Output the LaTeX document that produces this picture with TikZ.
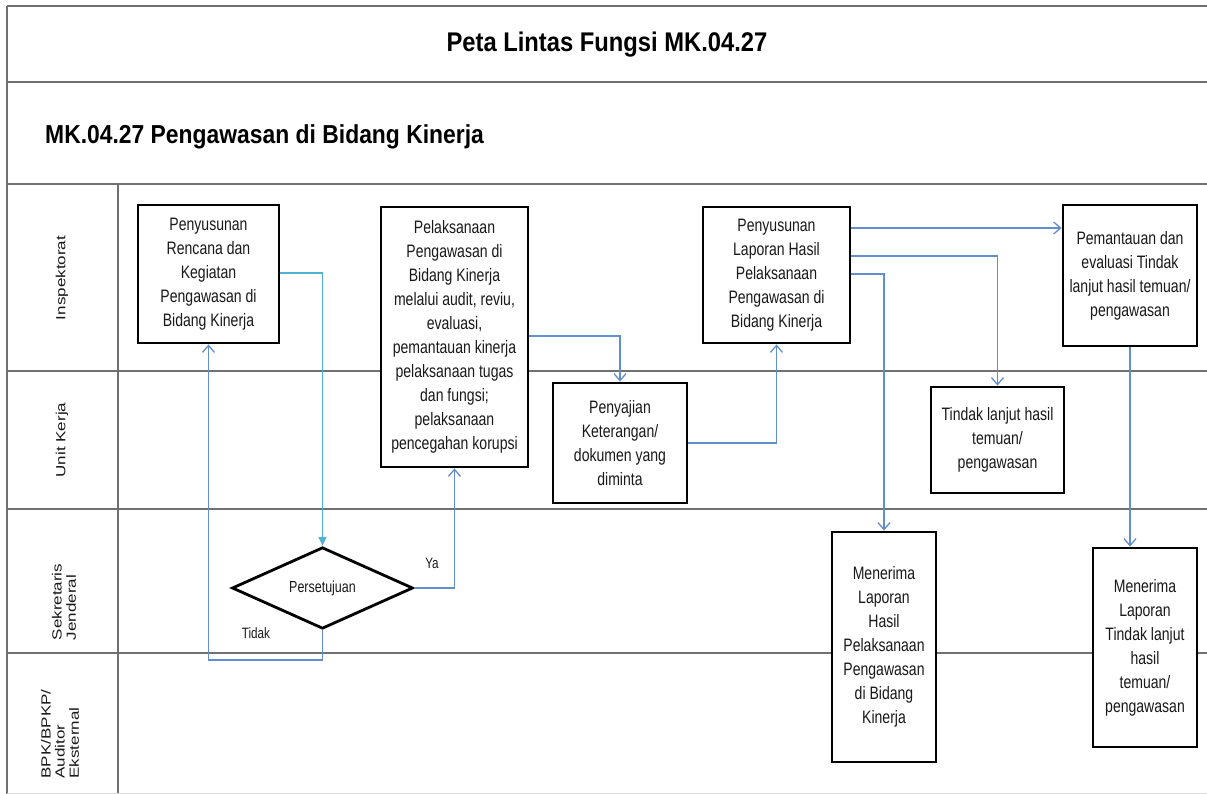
\documentclass[tikz,border=0pt]{standalone}
\usepackage{fontspec}
\setmainfont[FakeStretch=0.78]{Liberation Sans}
\newfontfamily\headfont[FakeStretch=0.88]{Liberation Sans}
\newfontfamily\lanefont{Liberation Sans}
\usetikzlibrary{shapes.geometric,arrows.meta}
\definecolor{flowblue}{RGB}{98,142,206}
\definecolor{flowcyan}{RGB}{80,178,210}
\definecolor{frameline}{RGB}{112,112,112}
\begin{document}
\begin{tikzpicture}[x=1pt,y=-1pt,
  lane/.style={draw=frameline, line width=2.6pt},
  lanelabel/.style={rotate=90, yscale=0.78, align=left, inner sep=0pt, text=black!90, font=\lanefont\fontsize{17}{18}\selectfont},
  box/.style={draw=black, line width=2.8pt, fill=white, align=center, inner sep=2pt, text=black!90, font=\fontsize{18}{24}\selectfont},
  decision/.style={diamond, draw=black, line width=2.8pt, fill=white, inner sep=0pt, text=black!90, font=\fontsize{16}{20}\selectfont},
  flow/.style={draw=flowblue, line width=1.3pt, -{Straight Barb[length=7pt,width=12pt]}},
  flowalt/.style={draw=flowcyan, line width=1.3pt, -{Triangle[length=9pt,width=8pt]}},
  tag/.style={inner sep=0pt, text=black!90, font=\fontsize{15}{18}\selectfont}]
  \useasboundingbox (0,0) rectangle (1207,794);
  % frame and lanes
  \draw[lane] (7,6)--(1207,6);
  \draw[lane] (7,6)--(7,794);
  \draw[lane] (7,82)--(1207,82);
  \draw[lane] (7,184)--(1207,184);
  \draw[lane] (118,184)--(118,794);
  \draw[lane] (7,371)--(1207,371);
  \draw[lane] (7,509)--(1207,509);
  \draw[lane] (7,653)--(1207,653);
  \draw[gray!30, line width=1pt] (7,793)--(1207,793);
  \node (title) [font=\headfont\bfseries\fontsize{27}{32}\selectfont] at (607,45) {Peta Lintas Fungsi MK.04.27};
  \node (subtitle) [anchor=west, inner sep=0pt, font=\headfont\bfseries\fontsize{26}{30}\selectfont] at (45,137) {MK.04.27 Pengawasan di Bidang Kinerja};
  \node (inspektorat) [lanelabel] at (62,278) {Inspektorat};
  \node (unitkerja) [lanelabel] at (62,440) {Unit Kerja};
  \node (sekjen) [lanelabel] at (64,602) {Sekretaris\\Jenderal};
  \node (bpk) [lanelabel] at (60,734) {BPK/BPKP/\\Auditor\\Eksternal};
  % process steps
  \node (rencana) [box, minimum width=141pt, minimum height=138pt] at (208.5,274) {Penyusunan\\Rencana dan\\Kegiatan\\Pengawasan di\\Bidang Kinerja};
  \node (pelaksanaan) [box, minimum width=147pt, minimum height=260pt] at (454.5,337) {Pelaksanaan\\Pengawasan di\\Bidang Kinerja\\melalui audit, reviu,\\evaluasi,\\pemantauan kinerja\\pelaksanaan tugas\\dan fungsi;\\pelaksanaan\\pencegahan korupsi};
  \node (penyajian) [box, minimum width=134pt, minimum height=120pt] at (620,443) {Penyajian\\Keterangan/\\dokumen yang\\diminta};
  \node (laporan) [box, minimum width=147pt, minimum height=136pt] at (776.5,275) {Penyusunan\\Laporan Hasil\\Pelaksanaan\\Pengawasan di\\Bidang Kinerja};
  \node (pemantauan) [box, minimum width=134pt, minimum height=141pt] at (1130,275.5) {Pemantauan dan\\evaluasi Tindak\\lanjut hasil temuan/\\pengawasan};
  \node (tindaklanjut) [box, minimum width=133pt, minimum height=106pt] at (997.5,440) {Tindak lanjut hasil\\temuan/\\pengawasan};
  \node (terimahasil) [box, minimum width=104pt, minimum height=230pt] at (884,647) {Menerima\\Laporan\\Hasil\\Pelaksanaan\\Pengawasan\\di Bidang\\Kinerja};
  \node (terimatl) [box, minimum width=104pt, minimum height=199pt] at (1145,647.5) {Menerima\\Laporan\\Tindak lanjut\\hasil\\temuan/\\pengawasan};
  \node (persetujuan) [decision, minimum width=181pt, minimum height=79pt] at (322.5,588) {Persetujuan};
  \node (ya) [tag] at (432,563) {Ya};
  \node (tidak) [tag] at (256,633) {Tidak};
  \coordinate (kembali) at (208.5,660);
  % connectors
  \draw[flowalt] ([yshift=1pt]rencana.east) -| (persetujuan.north);
  \draw[flow] (persetujuan.east) -| (pelaksanaan.south);
  \draw[flow] (persetujuan.south) |- (kembali) -- (rencana.south);
  \draw[flow] ([yshift=1pt]pelaksanaan.east) -| (penyajian.north);
  \draw[flow] (penyajian.east) -| (laporan.south);
  \draw[flow] ([yshift=47pt]laporan.east) -- ([yshift=47pt]laporan.east -| pemantauan.west);
  \draw[flow] ([yshift=19pt]laporan.east) -| (tindaklanjut.north);
  \draw[flow] ([yshift=1pt]laporan.east) -| (terimahasil.north);
  \draw[flow] (pemantauan.south) -- (pemantauan.south |- terimatl.north);
\end{tikzpicture}
\end{document}
